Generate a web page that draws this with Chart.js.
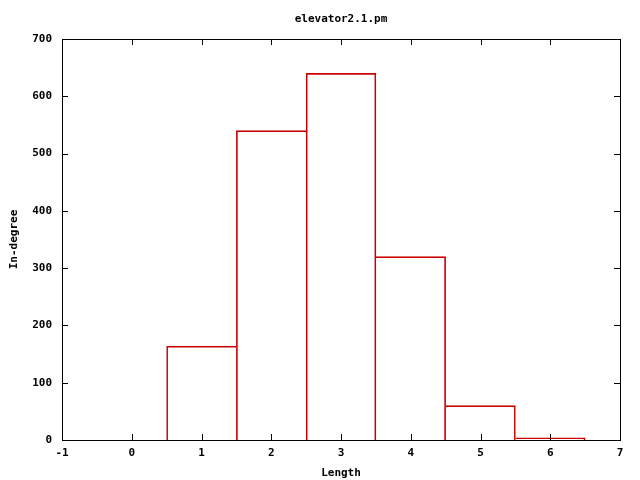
<!DOCTYPE html>
<html>
<head>
<meta charset="utf-8">
<script src="https://cdn.jsdelivr.net/npm/chart.js@4"></script>
<style>
  html, body { margin: 0; padding: 0; background: #fff; }
  #wrap { width: 640px; height: 480px; }
</style>
</head>
<body>
<div id="wrap"><canvas id="histo"></canvas></div>
<script>
const titulo = 'elevator2.1.pm';
const longitudes = [1, 2, 3, 4, 5, 6];
const indegree = [164, 540, 640, 320, 60, 4];
const xTicks = [-1, 0, 1, 2, 3, 4, 5, 6, 7];
const yTicks = [0, 100, 200, 300, 400, 500, 600, 700];

const fuente = { family: 'DejaVu Sans Mono', size: 11, weight: 'bold' };

// cada borde compartido lo dibuja solo la barra mas alta (sin lineas dobles)
function bordeBarra(c) {
  const i = c.dataIndex;
  const v = indegree[i];
  const prev = i > 0 ? indegree[i - 1] : -1;
  const next = i < indegree.length - 1 ? indegree[i + 1] : -1;
  return {
    top: 1,
    bottom: 0,
    left: v >= prev ? 1 : 0,
    right: v > next ? 1 : 0
  };
}

// marco + ticks hacia adentro (estilo gnuplot) + titulo
const marcoGnuplot = {
  id: 'marcoGnuplot',
  afterDraw(chart) {
    const { ctx, chartArea: a, scales } = chart;
    ctx.save();
    ctx.strokeStyle = '#000';
    ctx.lineWidth = 1;
    ctx.beginPath();
    xTicks.forEach(v => {
      const px = Math.round(scales.x.getPixelForValue(v)) + 0.5;
      ctx.moveTo(px, a.bottom); ctx.lineTo(px, a.bottom - 6);
      ctx.moveTo(px, a.top); ctx.lineTo(px, a.top + 6);
    });
    yTicks.forEach(v => {
      const py = Math.round(scales.y.getPixelForValue(v)) + 0.5;
      ctx.moveTo(a.left, py); ctx.lineTo(a.left + 6, py);
      ctx.moveTo(a.right, py); ctx.lineTo(a.right - 6, py);
    });
    ctx.stroke();
    ctx.strokeRect(Math.round(a.left) + 0.5, Math.round(a.top) + 0.5,
      Math.round(a.right - a.left), Math.round(a.bottom - a.top));

    ctx.fillStyle = '#000';
    ctx.font = 'bold 11px "DejaVu Sans Mono"';
    ctx.textAlign = 'center';
    ctx.textBaseline = 'middle';
    ctx.fillText(titulo, (a.left + a.right) / 2, 19);
    ctx.restore();
  }
};

const ctx = document.getElementById('histo').getContext('2d');
new Chart(ctx, {
  type: 'bar',
  data: {
    datasets: [{
      data: longitudes.map((l, i) => ({ x: l, y: indegree[i] })),
      backgroundColor: 'rgba(0,0,0,0)',
      borderColor: '#cc0000',
      borderWidth: bordeBarra,
      borderSkipped: false,
      barPercentage: 1,
      categoryPercentage: 1
    }]
  },
  options: {
    animation: false,
    responsive: true,
    maintainAspectRatio: false,
    layout: { padding: { left: 0, right: 20, top: 39, bottom: 0 } },
    plugins: {
      legend: { display: false },
      tooltip: { enabled: false }
    },
    scales: {
      x: {
        type: 'linear',
        min: -1,
        max: 7,
        offset: false,
        grid: { display: false, drawTicks: false },
        border: { display: false },
        afterBuildTicks: s => { s.ticks = xTicks.map(v => ({ value: v })); },
        afterFit: s => { s.height = 40; },
        ticks: { color: '#000', font: fuente, padding: 7, maxRotation: 0 },
        title: { display: true, text: 'Length', color: '#000', font: fuente, padding: { top: 4, bottom: 0 } }
      },
      y: {
        min: 0,
        max: 700,
        grid: { display: false, drawTicks: false },
        border: { display: false },
        afterBuildTicks: s => { s.ticks = yTicks.map(v => ({ value: v })); },
        afterFit: s => { s.width = 62; },
        ticks: { color: '#000', font: fuente, padding: 10 },
        title: { display: true, text: 'In-degree', color: '#000', font: fuente, padding: { top: 8, bottom: 2 } }
      }
    }
  },
  plugins: [marcoGnuplot]
});
</script>
</body>
</html>
